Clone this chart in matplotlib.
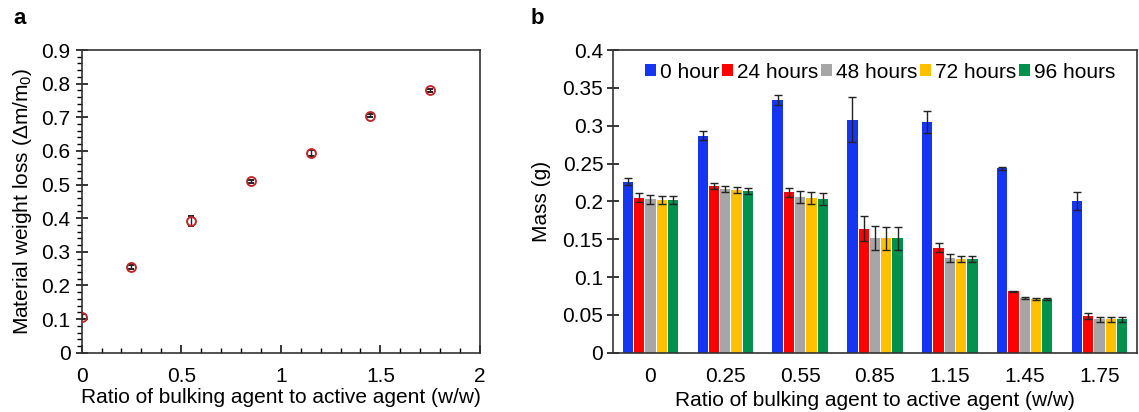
import matplotlib
matplotlib.use("Agg")
import matplotlib.pyplot as plt
from matplotlib.ticker import MultipleLocator
import numpy as np

plt.rcParams['font.family'] = ['Liberation Sans', 'DejaVu Sans']

# Panel a: material weight loss vs. ratio
ratio_a = [0.0, 0.25, 0.55, 0.85, 1.15, 1.45, 1.75]
weight_loss = [0.107, 0.255, 0.391, 0.510, 0.594, 0.705, 0.780]
weight_loss_err = [0.008, 0.005, 0.015, 0.005, 0.008, 0.004, 0.004]

# Panel b: mass over time for each ratio
ratio_labels = ['0', '0.25', '0.55', '0.85', '1.15', '1.45', '1.75']
series_names = ['0 hour', '24 hours', '48 hours', '72 hours', '96 hours']
mass_0h = [0.226, 0.287, 0.334, 0.308, 0.305, 0.244, 0.200]
mass_24h = [0.205, 0.220, 0.212, 0.164, 0.139, 0.081, 0.048]
mass_48h = [0.203, 0.216, 0.206, 0.152, 0.125, 0.072, 0.044]
mass_72h = [0.202, 0.215, 0.204, 0.151, 0.124, 0.071, 0.044]
mass_96h = [0.202, 0.214, 0.203, 0.151, 0.124, 0.071, 0.044]
err_0h = [0.005, 0.006, 0.007, 0.030, 0.015, 0.002, 0.012]
err_24h = [0.006, 0.004, 0.006, 0.017, 0.006, 0.001, 0.004]
err_48h = [0.006, 0.004, 0.008, 0.016, 0.005, 0.001, 0.003]
err_72h = [0.005, 0.004, 0.008, 0.015, 0.004, 0.001, 0.003]
err_96h = [0.005, 0.004, 0.008, 0.015, 0.004, 0.001, 0.003]
bar_colors = ['#1436F2', '#FF0000', '#A6A6A6', '#FFC000', '#00914C']

FS = 15

fig = plt.figure(figsize=(11.39, 4.12), dpi=100)

# ---------------- panel a ----------------
ax1 = fig.add_axes([0.0717, 0.1439, 0.3497, 0.7347])
ax1.errorbar(ratio_a, weight_loss, yerr=weight_loss_err, fmt='o', ms=6.4,
             mfc='none', mec='#C0272D', mew=1.4, ecolor='#222222',
             elinewidth=1.0, capsize=2.5, capthick=1.0, zorder=3)
ax1.set_xlim(0, 2)
ax1.set_ylim(0, 0.9)
ax1.xaxis.set_major_locator(MultipleLocator(0.5))
ax1.xaxis.set_minor_locator(MultipleLocator(0.1))
ax1.yaxis.set_major_locator(MultipleLocator(0.1))
ax1.yaxis.set_minor_locator(MultipleLocator(0.02))
ax1.set_xticks([0, 0.5, 1, 1.5, 2])
ax1.set_xticklabels(['0', '0.5', '1', '1.5', '2'])
ax1.set_yticks(np.arange(0, 0.91, 0.1))
ax1.set_yticklabels(['0', '0.1', '0.2', '0.3', '0.4', '0.5', '0.6', '0.7', '0.8', '0.9'])
ax1.tick_params(axis='x', which='major', direction='in', length=6, width=1.1,
                labelsize=FS, pad=10)
ax1.tick_params(axis='x', which='minor', direction='in', length=3.5, width=1.0)
ax1.tick_params(axis='y', which='major', direction='inout', length=8, width=1.1,
                labelsize=FS, pad=4)
ax1.tick_params(axis='y', which='minor', direction='out', length=3.5, width=1.0)
for sp in ax1.spines.values():
    sp.set_linewidth(1.2)
    sp.set_color('#333333')
ax1.set_xlabel('Ratio of bulking agent to active agent (w/w)', fontsize=FS)
ax1.set_ylabel('Material weight loss (Δm/m$\\mathregular{_0}$)', fontsize=FS)
ax1.xaxis.set_label_coords(0.5, -0.118)
ax1.yaxis.set_label_coords(-0.12, 0.5)
fig.text(0.012, 0.955, 'a', fontsize=16, fontweight='bold', va='center', ha='left')

# ---------------- panel b ----------------
ax2 = fig.add_axes([0.5382, 0.1439, 0.4600, 0.7347])
values = [mass_0h, mass_24h, mass_48h, mass_72h, mass_96h]
errors = [err_0h, err_24h, err_48h, err_72h, err_96h]
x = np.arange(len(ratio_labels))
bar_w = 0.137
step = 0.151
for i, (vals, errs, col, name) in enumerate(zip(values, errors, bar_colors, series_names)):
    ax2.bar(x + (i - 2) * step, vals, width=bar_w, color=col, label=name,
            yerr=errs, capsize=3.2,
            error_kw=dict(ecolor='#222222', elinewidth=1.0, capthick=1.0),
            zorder=2)
ax2.set_xlim(-0.5, len(ratio_labels) - 0.5)
ax2.set_ylim(0, 0.4)
ax2.set_xticks(x)
ax2.set_xticklabels(ratio_labels)
ax2.set_yticks(np.arange(0, 0.401, 0.05))
ax2.set_yticklabels(['0', '0.05', '0.1', '0.15', '0.2', '0.25', '0.3', '0.35', '0.4'])
ax2.tick_params(axis='x', length=0, labelsize=FS, pad=10)
ax2.tick_params(axis='y', direction='inout', length=8, width=1.1, labelsize=FS, pad=3)
for sp in ax2.spines.values():
    sp.set_linewidth(1.2)
    sp.set_color('#333333')
ax2.set_xlabel('Ratio of bulking agent to active agent (w/w)', fontsize=FS)
ax2.set_ylabel('Mass (g)', fontsize=FS)
ax2.xaxis.set_label_coords(0.5, -0.128)
ax2.yaxis.set_label_coords(-0.119, 0.5)
leg = ax2.legend(loc='upper center', bbox_to_anchor=(0.51, 1.006), ncol=5,
                 frameon=False, fontsize=FS, handlelength=0.5, handleheight=0.5,
                 handletextpad=0.2, columnspacing=0.15, borderaxespad=0.3)
fig.text(0.466, 0.955, 'b', fontsize=16, fontweight='bold', va='center', ha='left')

fig.savefig('out.png', dpi=100)
